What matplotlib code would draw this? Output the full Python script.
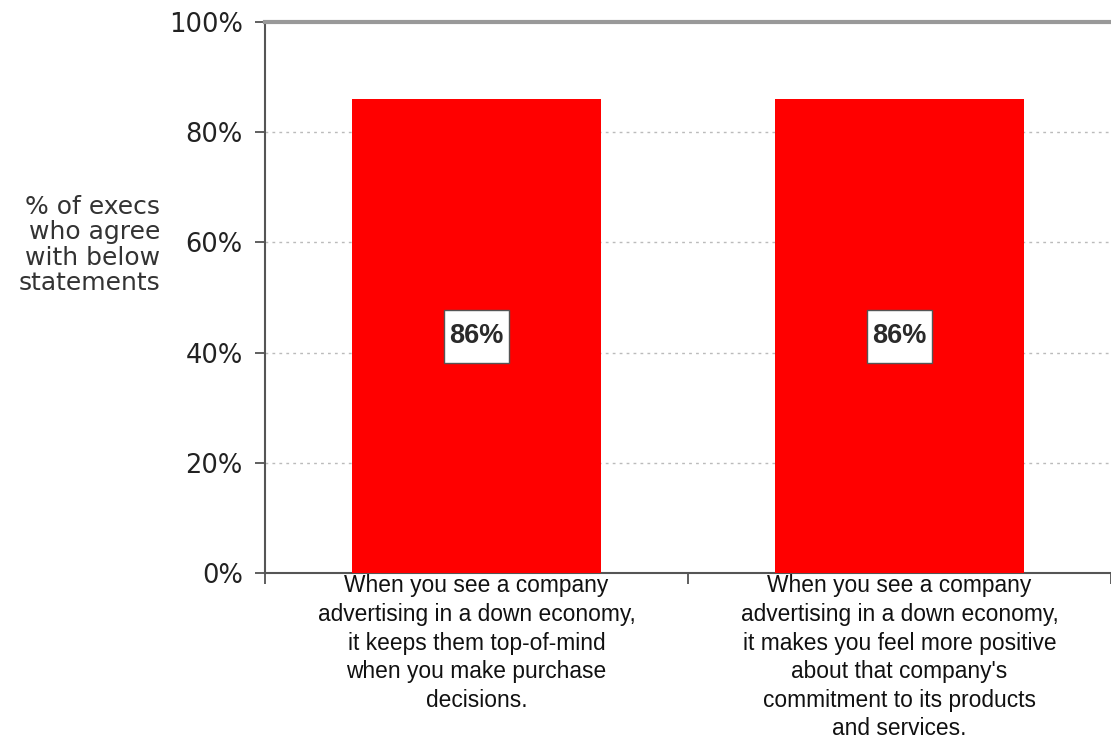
import matplotlib
matplotlib.use("Agg")
import matplotlib.pyplot as plt
from matplotlib.path import Path

categories = [
    "When you see a company\nadvertising in a down economy,\nit keeps them top-of-mind\nwhen you make purchase\ndecisions.",
    "When you see a company\nadvertising in a down economy,\nit makes you feel more positive\nabout that company's\ncommitment to its products\nand services.",
]
values = [86, 86]
yticks = [0, 20, 40, 60, 80, 100]
ytick_labels = ["0%", "20%", "40%", "60%", "80%", "100%"]
ylabel = "% of execs\nwho agree\nwith below\nstatements"


def label_box(x0, y0, width, height, mutation_size):
    px = 0.2 * mutation_size
    py = 0.5 * mutation_size
    x1, y1 = x0 - px, y0 - py
    x2, y2 = x0 + width + px, y0 + height + py
    return Path([(x1, y1), (x2, y1), (x2, y2), (x1, y2), (x1, y1)],
                [Path.MOVETO, Path.LINETO, Path.LINETO, Path.LINETO, Path.CLOSEPOLY])


fig = plt.figure(figsize=(11.11, 7.42), dpi=100)
ax = fig.add_axes([265/1111, 1-573/742, 1-265/1111, (573-22)/742])

x = list(range(len(values)))
ax.bar(x, values, width=0.59, color="#FF0000", zorder=3)
for xi, v in zip(x, values):
    ax.text(xi, v/2, f"{v}%", ha="center", va="center", fontsize=19.5, fontweight="bold",
            family="Liberation Sans", color="#2a2a2a", zorder=4,
            bbox=dict(boxstyle=label_box, fc="white", ec="#555555", lw=1))

ax.set_xlim(-0.5, 1.5)
ax.set_ylim(0, 100)
ax.set_yticks(yticks)
ax.set_yticklabels(ytick_labels, fontsize=18.5, family="DejaVu Sans", color="#222222")
ax.tick_params(axis="y", direction="out", length=7, width=1.2, color="#444444", pad=9)

ax.set_xticks(x)
ax.set_xticklabels(categories, fontsize=16.4, family="Liberation Sans", color="#111111",
                   linespacing=1.31, va="top")
ax.tick_params(axis="x", which="major", length=0, pad=1)
ax.set_xticks([-0.5, 0.5, 1.5], minor=True)
ax.tick_params(axis="x", which="minor", direction="out", length=8, width=1.2, color="#444444")

for yv in [20, 40, 60, 80]:
    ax.axhline(yv, color="#bbbbbb", lw=1, ls=(0, (2, 3)), zorder=1)

ax.spines["left"].set_color("#555555")
ax.spines["left"].set_linewidth(1.5)
ax.spines["bottom"].set_color("#555555")
ax.spines["bottom"].set_linewidth(1.5)
ax.spines["top"].set_color("#999999")
ax.spines["top"].set_linewidth(3)
ax.spines["right"].set_visible(False)

fig.text(160/1111, 1-245/742, ylabel, ha="right", va="center", fontsize=18,
         family="DejaVu Sans", color="#333333", linespacing=1.08)

fig.savefig("out.png", dpi=100)
